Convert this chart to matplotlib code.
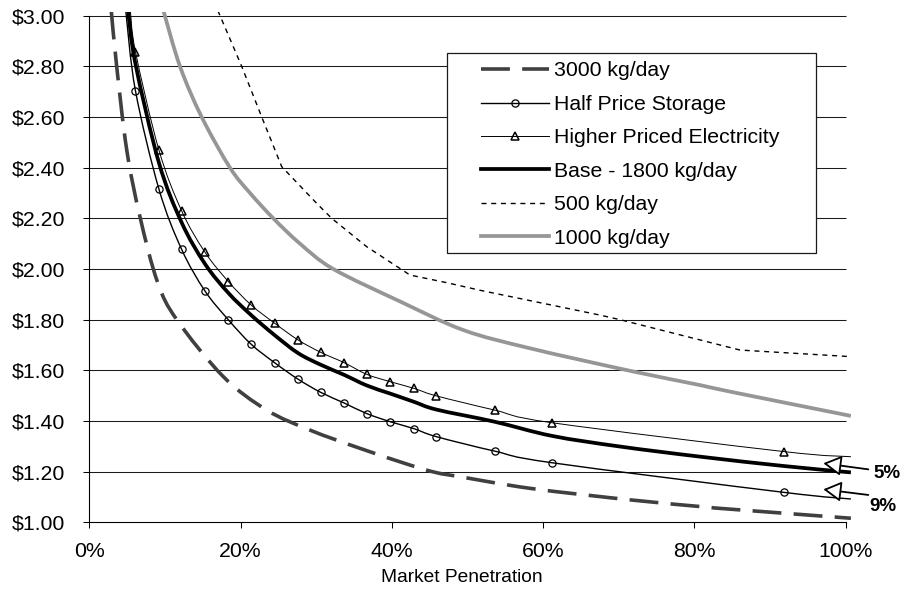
import numpy as np
import matplotlib
matplotlib.use("Agg")
import matplotlib.pyplot as plt
from matplotlib.path import Path
from matplotlib.patches import PathPatch, Rectangle
from matplotlib.lines import Line2D

plt.rcParams['font.family'] = ['Liberation Sans', 'DejaVu Sans']

# ---------------- data ----------------
series_labels = ['3000 kg/day', 'Half Price Storage', 'Higher Priced Electricity',
                 'Base - 1800 kg/day', '500 kg/day', '1000 kg/day']

x_3000 = [2.9, 3.62, 4.95, 6.70, 9.0, 11.56, 17.72, 23.46, 29.18, 35.79, 42.4, 45.9,
          49.0, 58.3, 71.7, 81.6, 84.7, 100.7]
y_3000 = [3.02, 2.80, 2.47, 2.206, 1.95, 1.80, 1.575, 1.443, 1.364, 1.292, 1.226, 1.196,
          1.180, 1.134, 1.088, 1.060, 1.052, 1.016]

x_half = [4.82, 6.1, 9.2, 12.2, 15.3, 18.4, 21.4, 24.5, 27.6, 30.6, 33.7, 36.7, 39.8,
          42.9, 45.9, 53.6, 61.2, 91.9, 100.7]
y_half = [3.02, 2.704, 2.316, 2.078, 1.913, 1.799, 1.703, 1.630, 1.565, 1.513, 1.471,
          1.429, 1.397, 1.370, 1.338, 1.281, 1.235, 1.118, 1.092]

x_high = [5.43, 6.1, 9.2, 12.2, 15.3, 18.4, 21.4, 24.5, 27.6, 30.6, 33.7, 36.7, 39.8,
          42.9, 45.9, 53.6, 61.2, 91.9, 100.7]
y_high = [3.02, 2.858, 2.470, 2.230, 2.066, 1.950, 1.858, 1.786, 1.720, 1.671, 1.630,
          1.584, 1.555, 1.529, 1.499, 1.443, 1.393, 1.279, 1.259]

x_base = [5.13, 6.1, 9.2, 12.2, 15.3, 18.4, 21.4, 24.5, 27.6, 30.6, 33.7, 36.7, 39.8,
          42.9, 45.9, 53.6, 61.2, 70.2, 80.8, 91.9, 100.7]
y_base = [3.02, 2.81, 2.42, 2.184, 2.020, 1.905, 1.818, 1.739, 1.668, 1.622, 1.582,
          1.540, 1.508, 1.476, 1.445, 1.397, 1.341, 1.299, 1.259, 1.222, 1.197]

x_500 = [17.0, 20.15, 22.80, 25.44, 30.07, 32.05, 36.68, 42.41, 47.26, 51.66, 67.53,
         70.17, 86.04, 100.7]
y_500 = [3.02, 2.80, 2.60, 2.404, 2.259, 2.20, 2.088, 1.976, 1.946, 1.916, 1.818,
         1.80, 1.680, 1.654]

x_1000 = [9.8, 11.99, 14.86, 18.60, 21.25, 24.33, 27.86, 32.26, 41.08, 49.45, 58.27,
          71.5, 80.7, 84.7, 100.7]
y_1000 = [3.02, 2.80, 2.60, 2.40, 2.30, 2.20, 2.10, 2.00, 1.872, 1.759, 1.687,
          1.598, 1.542, 1.516, 1.420]

x_ticks = [0, 20, 40, 60, 80, 100]
x_tick_labels = ['0%', '20%', '40%', '60%', '80%', '100%']
y_ticks = [1.0, 1.2, 1.4, 1.6, 1.8, 2.0, 2.2, 2.4, 2.6, 2.8, 3.0]
y_tick_labels = ['$1.00', '$1.20', '$1.40', '$1.60', '$1.80', '$2.00',
                 '$2.20', '$2.40', '$2.60', '$2.80', '$3.00']
x_label = 'Market Penetration'

note_labels = ['5%', '9%']
note_text_xy = [(105.45, 1.193), (104.9, 1.062)]
note_tip_xy = [(97.06, 1.233), (97.06, 1.130)]
note_tail_xy = [(103.0, 1.209), (103.0, 1.108)]


def smooth_path(xs, ys):
    p = np.column_stack([xs, ys]).astype(float)
    n = len(p)
    verts = [p[0]]
    codes = [Path.MOVETO]
    for i in range(n - 1):
        p0 = p[max(i - 1, 0)]
        p1 = p[i]
        p2 = p[i + 1]
        p3 = p[min(i + 2, n - 1)]
        verts += [p1 + (p2 - p0) / 6.0, p2 - (p3 - p1) / 6.0, p2]
        codes += [Path.CURVE4] * 3
    return Path(verts, codes)


FS = 15.3
fig = plt.figure(figsize=(9.03, 6.0), dpi=100)
fig.patch.set_facecolor('white')
ax = fig.add_axes([0.0989, 0.1295, 0.8434, 0.8511])
ax.set_xlim(0, 100.7)
ax.set_ylim(1.0, 3.016)

# gridlines
ax.hlines(y_ticks[1:], 0, 100, colors='#1a1a1a', linewidth=0.75, zorder=1)

# styles
st_3000 = dict(color='#404040', lw=2.6, ls=(0, (8, 3.4)))
st_half = dict(color='black', lw=1.0, ls='-')
st_high = dict(color='black', lw=0.7, ls='-')
st_base = dict(color='black', lw=2.7, ls='-')
st_500 = dict(color='black', lw=1.0, ls=(0, (3.6, 3.4)))
st_1000 = dict(color='#969696', lw=2.7, ls='-')

def add_curve(xs, ys, st, z):
    patch = PathPatch(smooth_path(xs, ys), fill=False, edgecolor=st['color'],
                      linewidth=st['lw'], linestyle=st['ls'], capstyle='butt',
                      joinstyle='round', zorder=z)
    ax.add_patch(patch)

add_curve(x_1000, y_1000, st_1000, 2)
ax.plot(x_500, y_500, color=st_500['color'], lw=st_500['lw'], ls=st_500['ls'],
        dash_capstyle='butt', zorder=2)
add_curve(x_3000, y_3000, st_3000, 2.2)
add_curve(x_base, y_base, st_base, 2.4)
add_curve(x_high, y_high, st_high, 2.6)
add_curve(x_half, y_half, st_half, 2.6)

mk_half = dict(marker='o', ms=5.2, mfc='none', mec='black', mew=0.9)
mk_high = dict(marker='^', ms=6.4, mfc='none', mec='black', mew=1.1)
ax.plot(x_half[1:-1], y_half[1:-1], ls='none', zorder=3, **mk_half)
ax.plot(x_high[1:-1], y_high[1:-1], ls='none', zorder=3, **mk_high)

# axes styling
for s in ['top', 'right']:
    ax.spines[s].set_visible(False)
ax.spines['left'].set_bounds(1.0, 3.0)
ax.spines['bottom'].set_bounds(0, 100)
for s in ['left', 'bottom']:
    ax.spines[s].set_color('black')
    ax.spines[s].set_linewidth(0.8)
ax.set_xticks(x_ticks)
ax.set_xticklabels(x_tick_labels)
ax.set_yticks(y_ticks)
ax.set_yticklabels(y_tick_labels)
ax.tick_params(axis='y', direction='out', length=4.3, width=0.75, pad=13,
               labelsize=FS, colors='black')
ax.tick_params(axis='x', direction='out', length=4.3, width=0.75, pad=10,
               labelsize=FS, colors='black')
ax.set_xlabel(x_label, fontsize=13.8, va='center')
ax.xaxis.set_label_coords((462 - 89.3) / (850.9 - 89.3), (522.3 - 577) / 510.65)

# notes with arrows
for lab, txy, tip, tail in zip(note_labels, note_text_xy, note_tip_xy, note_tail_xy):
    ax.annotate('', xy=tip, xytext=tail, annotation_clip=False,
                arrowprops=dict(arrowstyle='-|>,head_length=1.1,head_width=0.62',
                                mutation_scale=10, fc='white', ec='black', lw=1.3,
                                shrinkA=0, shrinkB=0), zorder=6)
    ax.text(txy[0], txy[1], lab, ha='center', va='center', fontsize=13.5,
            fontweight='bold', clip_on=False)

# legend box
ax.add_patch(Rectangle((446.7 / 903, 1 - 252.7 / 600), 369.3 / 903, 200 / 600,
                       transform=fig.transFigure, facecolor='white',
                       edgecolor='#1a1a1a', linewidth=0.9, zorder=4, clip_on=False))
handles = [
    Line2D([], [], color=st_3000['color'], lw=st_3000['lw'], ls=st_3000['ls'], dash_capstyle='butt'),
    Line2D([], [], color='black', lw=st_half['lw'], **mk_half),
    Line2D([], [], color='black', lw=st_high['lw'], **mk_high),
    Line2D([], [], color='black', lw=st_base['lw']),
    Line2D([], [], color='black', lw=st_500['lw'], ls=st_500['ls'], dash_capstyle='butt'),
    Line2D([], [], color=st_1000['color'], lw=st_1000['lw']),
]
leg = ax.legend(handles, series_labels, loc='upper left',
                bbox_to_anchor=(480.7 / 903, 1 - 61.5 / 600),
                bbox_transform=fig.transFigure, frameon=False, fontsize=FS,
                borderpad=0, borderaxespad=0, handlelength=3.23,
                handletextpad=0.23, labelspacing=0.68, markerscale=1.0)
leg.set_zorder(5)

fig.savefig('out.png', dpi=100)
